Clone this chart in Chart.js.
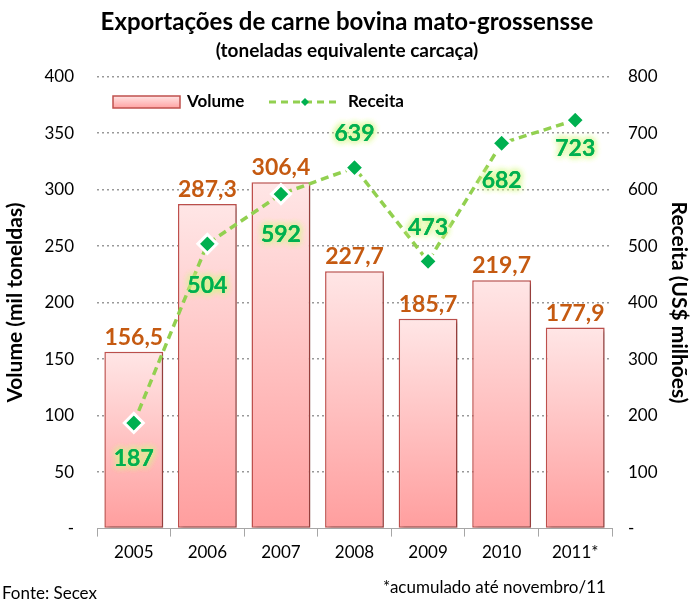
<!DOCTYPE html>
<html>
<head>
<meta charset="utf-8">
<script src="https://cdn.jsdelivr.net/npm/chart.js@4"></script>
<style>
  body { margin: 0; background: #fff; }
</style>
</head>
<body>
<canvas id="exportChart" width="691" height="602"></canvas>
<script>
// dados
const years = ['2005', '2006', '2007', '2008', '2009', '2010', '2011*'];
const volume = [156.5, 287.3, 306.4, 227.7, 185.7, 219.7, 177.9];
const receita = [187, 504, 592, 639, 473, 682, 723];

// rótulos da receita: deslocamento vertical em px (negativo = acima do ponto)
const receitaLabelOffset = [36, 42, 40, -34, -34, 37, 28];

const FONT = 'Lato';
const fmt = v => v.toFixed(1).replace('.', ',');

const labelsPlugin = {
    id: 'labelsPlugin',
    beforeDatasetDraw(chart, args) {
        if (args.index === 0) {
            const c = chart.ctx;
            c.save();
            c.shadowColor = 'rgba(0,0,0,0.25)';
            c.shadowBlur = 4;
            c.shadowOffsetX = 3;
            c.shadowOffsetY = 2;
        }
    },
    afterDatasetDraw(chart, args) {
        if (args.index === 0) chart.ctx.restore();
    },
    afterDraw(chart) {
        const c = chart.ctx;
        c.save();

        // rótulos das barras
        c.font = 'bold 23px ' + FONT;
        c.fillStyle = '#C55A11';
        c.textAlign = 'center';
        c.textBaseline = 'alphabetic';
        chart.getDatasetMeta(0).data.forEach((bar, i) => {
            c.fillText(fmt(volume[i]), bar.x, bar.y - 7);
        });

        // rótulos da receita com brilho
        c.textBaseline = 'middle';
        chart.getDatasetMeta(1).data.forEach((pt, i) => {
            const y = pt.y + receitaLabelOffset[i];
            c.shadowColor = 'rgba(215,245,140,1)';
            c.shadowBlur = 7;
            c.fillStyle = '#00B050';
            for (let k = 0; k < 3; k++) c.fillText(String(receita[i]), pt.x, y);
        });
        c.shadowBlur = 0;
        c.shadowColor = 'transparent';

        // legenda dentro da área
        const ly = 102;
        const grad = c.createLinearGradient(0, ly - 6, 0, ly + 6);
        grad.addColorStop(0, '#FFE3E3');
        grad.addColorStop(1, '#FFA3A3');
        c.fillStyle = grad;
        c.fillRect(113, ly - 6, 67, 12);
        c.strokeStyle = '#C0504D';
        c.lineWidth = 1.5;
        c.strokeRect(113, ly - 6, 67, 12);
        c.fillStyle = '#000';
        c.font = 'bold 17px ' + FONT;
        c.textAlign = 'left';
        c.textBaseline = 'middle';
        c.fillText('Volume', 187, ly);

        c.strokeStyle = '#92D050';
        c.lineWidth = 3;
        c.setLineDash([7, 5]);
        c.beginPath();
        c.moveTo(269, ly);
        c.lineTo(340, ly);
        c.stroke();
        c.setLineDash([]);
        c.fillStyle = '#00B050';
        c.beginPath();
        c.moveTo(305, ly - 4);
        c.lineTo(309, ly);
        c.lineTo(305, ly + 4);
        c.lineTo(301, ly);
        c.closePath();
        c.fill();
        c.fillStyle = '#000';
        c.fillText('Receita', 348, ly);

        // rodapé
        c.font = '17px ' + FONT;
        c.textBaseline = 'alphabetic';
        c.fillText('Fonte: Secex', 2, 599);
        c.fillText('*acumulado até novembro/11', 383, 593);

        c.restore();
    }
};

const ctx = document.getElementById('exportChart').getContext('2d');

new Chart(ctx, {
    plugins: [labelsPlugin],
    data: {
        labels: years,
        datasets: [{
            type: 'bar',
            label: 'Volume',
            data: volume,
            yAxisID: 'y',
            order: 2,
            barPercentage: 0.8,
            categoryPercentage: 1,
            borderColor: '#C0504D',
            borderWidth: 1.5,
            borderSkipped: false,
            backgroundColor: (context) => {
                const chart = context.chart;
                const area = chart.chartArea;
                if (!area || context.raw === undefined) return '#FFB3B3';
                const top = chart.scales.y.getPixelForValue(context.raw);
                const g = chart.ctx.createLinearGradient(0, top, 0, area.bottom);
                g.addColorStop(0, '#FFE6E6');
                g.addColorStop(1, '#FF9E9E');
                return g;
            }
        }, {
            type: 'line',
            label: 'Receita',
            data: receita,
            yAxisID: 'y1',
            order: 1,
            borderColor: '#92D050',
            borderWidth: 3.5,
            borderDash: [8, 5],
            tension: 0,
            pointStyle: 'rectRot',
            pointRadius: 9.5,
            pointBackgroundColor: '#00B050',
            pointBorderColor: '#FFFFFF',
            pointBorderWidth: 3
        }]
    },
    options: {
        responsive: false,
        animation: false,
        layout: { padding: { top: 0, left: 3, right: 0, bottom: 33 } },
        plugins: {
            legend: { display: false },
            tooltip: { enabled: false },
            title: {
                display: true,
                text: 'Exportações de carne bovina mato-grossensse',
                color: '#000',
                font: { family: FONT, size: 24, weight: 'bold' },
                padding: { top: 8, bottom: 3 }
            },
            subtitle: {
                display: true,
                text: '(toneladas equivalente carcaça)',
                color: '#000',
                font: { family: FONT, size: 19, weight: 'bold' },
                padding: { top: 0, bottom: 14 }
            }
        },
        scales: {
            x: {
                offset: true,
                grid: {
                    offset: true,
                    drawOnChartArea: false,
                    tickLength: 8,
                    color: '#A6A6A6'
                },
                border: { color: '#A6A6A6' },
                ticks: {
                    color: '#000',
                    font: { family: FONT, size: 17 },
                    padding: 6
                }
            },
            y: {
                position: 'left',
                min: 0,
                max: 400,
                afterFit: s => { s.width = 94; },
                ticks: {
                    stepSize: 50,
                    color: '#000',
                    font: { family: FONT, size: 17 },
                    padding: 23,
                    callback: v => v === 0 ? '-' : v
                },
                grid: {
                    drawTicks: false,
                    color: c => c.tick.value === 0 ? 'transparent' : '#999999',
                    lineWidth: 1.5
                },
                border: { display: false, dash: [2, 3] },
                title: {
                    display: true,
                    text: 'Volume (mil toneldas)',
                    color: '#000',
                    font: { family: FONT, size: 21, weight: 'bold' },
                    padding: { top: 0, bottom: 0 }
                }
            },
            y1: {
                position: 'right',
                min: 0,
                max: 800,
                afterFit: s => { s.width = 79; },
                ticks: {
                    stepSize: 100,
                    color: '#000',
                    font: { family: FONT, size: 17 },
                    padding: 16,
                    callback: v => v === 0 ? '-' : v
                },
                grid: { drawOnChartArea: false, drawTicks: false },
                border: { display: false },
                title: {
                    display: true,
                    text: 'Receita (US$ milhões)',
                    color: '#000',
                    font: { family: FONT, size: 21, weight: 'bold' },
                    padding: { top: 0, bottom: 0 }
                }
            }
        }
    }
});
</script>
</body>
</html>
